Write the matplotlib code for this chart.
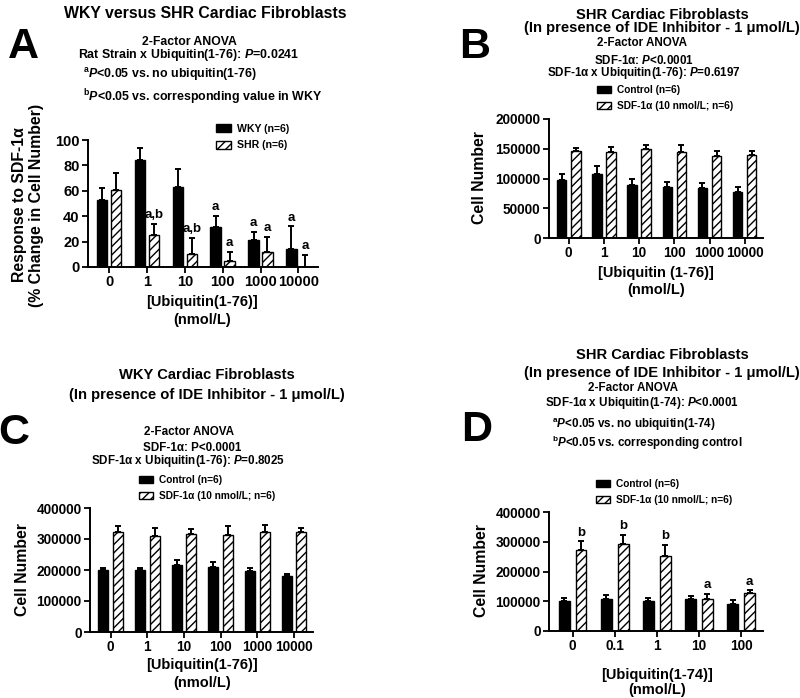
import numpy as np
import matplotlib
matplotlib.use("Agg")
import matplotlib.pyplot as plt

plt.rcParams['font.family'] = ['Liberation Sans', 'DejaVu Sans']
plt.rcParams['font.weight'] = 'bold'
plt.rcParams['mathtext.fontset'] = 'custom'
plt.rcParams['mathtext.rm'] = 'Liberation Sans:bold'
plt.rcParams['mathtext.it'] = 'Liberation Sans:italic:bold'
plt.rcParams['mathtext.bf'] = 'Liberation Sans:bold'
plt.rcParams['hatch.linewidth'] = 1.0

# Panel A - WKY vs SHR, % change in cell number
a_doses = ['0', '1', '10', '100', '1000', '10000']
a_wky = [52.5, 84, 63, 31.5, 21.5, 14]
a_wky_err = [10, 10, 14.5, 9, 6, 18]
a_shr = [61, 25.5, 10.5, 5, 11.5, 0.3]
a_shr_err = [13, 8.5, 12.5, 7, 12, 9.4]
a_wky_marks = ['', '', '', 'a', 'a', 'a']
a_shr_marks = ['', 'a,b', 'a,b', 'a', 'a', 'a']

# Panel B - SHR with IDE inhibitor
b_doses = ['0', '1', '10', '100', '1000', '10000']
b_ctrl = [98000, 107000, 89000, 86500, 84000, 77500]
b_ctrl_err = [10000, 14000, 10000, 7500, 8000, 8500]
b_sdf = [146500, 144000, 149000, 145000, 138000, 139000]
b_sdf_err = [5500, 9000, 8000, 12000, 7500, 6500]

# Panel C - WKY with IDE inhibitor
c_doses = ['0', '1', '10', '100', '1000', '10000']
c_ctrl = [200000, 199000, 216000, 211000, 196000, 182000]
c_ctrl_err = [6000, 8000, 15000, 14000, 10000, 6000]
c_sdf = [324000, 310000, 316000, 313000, 322000, 321000]
c_sdf_err = [19000, 27000, 17000, 30000, 23000, 15000]

# Panel D - SHR with IDE inhibitor, ubiquitin(1-74)
d_doses = ['0', '0.1', '1', '10', '100']
d_ctrl = [101000, 107500, 102000, 108500, 92000]
d_ctrl_err = [9000, 14000, 9000, 10000, 13000]
d_sdf = [273000, 293500, 251000, 108500, 127500]
d_sdf_err = [28000, 30000, 38000, 16500, 9000]
d_sdf_marks = ['b', 'b', 'b', 'a', 'a']

W, H = 800, 698
fig = plt.figure(figsize=(W / 100, H / 100), dpi=100)


def px_axes(x0, y0, x1, y1):
    return fig.add_axes([x0 / W, 1 - y1 / H, (x1 - x0) / W, (y1 - y0) / H])


def ftext(x, y, s, size=8.4, ha='center', **kw):
    fig.text(x / W, 1 - y / H, s, ha=ha, va='center', fontsize=size,
             fontweight='bold', **kw)


def bar_panel(ax, doses, s1, e1, s2, e2, lab1, lab2, ymax, step,
              width=0.27, off=0.19, tsize=9.8):
    x = np.arange(len(doses))
    ax.bar(x - off, s1, width, color='black', edgecolor='black',
           linewidth=1, label=lab1, zorder=2)
    ax.bar(x + off, s2, width, color='white', edgecolor='black',
           hatch='////', linewidth=1, label=lab2, zorder=2)
    for xs, m, e in [(x - off, s1, e1), (x + off, s2, e2)]:
        ax.errorbar(xs, m, yerr=[np.zeros(len(m)), e], fmt='none',
                    ecolor='black', elinewidth=1.4, capsize=2.5,
                    capthick=1.4, zorder=3)
    ax.set_xlim(-0.56, len(doses) - 0.48)
    ax.set_ylim(0, ymax)
    ax.set_yticks(np.arange(0, ymax + 1, step))
    ax.set_xticks(x)
    ax.set_xticklabels(doses)
    for s in ['top', 'right']:
        ax.spines[s].set_visible(False)
    for s in ['left', 'bottom']:
        ax.spines[s].set_linewidth(1.4)
    ax.tick_params(axis='both', width=1.3, length=4, labelsize=tsize, pad=2)
    for t in ax.get_xticklabels() + ax.get_yticklabels():
        t.set_fontweight('bold')
    return x


def add_legend(ax, x, y, size=7.3):
    ax.legend(loc='upper left', bbox_to_anchor=(x / W, 1 - y / H),
              bbox_transform=fig.transFigure, frameon=False,
              handlelength=1.4, handleheight=0.75, handletextpad=0.6,
              labelspacing=0.6, borderpad=0, borderaxespad=0,
              prop={'weight': 'bold', 'size': size})


def marks(ax, xs, tops, labels):
    for xi, t, lab in zip(xs, tops, labels):
        if lab:
            ax.annotate(lab, (xi, t), xytext=(0, 2), textcoords='offset points',
                        ha='center', va='bottom', fontsize=9.5,
                        fontweight='bold')


# ---- Panel A ----
axA = px_axes(88, 140, 318, 267)
xa = bar_panel(axA, a_doses, a_wky, a_wky_err, a_shr, a_shr_err,
               'WKY (n=6)', 'SHR (n=6)', 100, 20, width=0.28, off=0.185,
               tsize=10.5)
marks(axA, xa - 0.185, np.add(a_wky, a_wky_err), a_wky_marks)
marks(axA, xa + 0.185, np.add(a_shr, a_shr_err), a_shr_marks)
add_legend(axA, 216, 124, size=7.6)
ftext(205, 13, 'WKY versus SHR Cardiac Fibroblasts', size=11.4)
ftext(23, 47, 'A', size=31)
ftext(189, 42, '2-Factor ANOVA', size=8.8)
ftext(189, 55, r'Rat Strain x Ubiquitin(1-76): $P$=0.0241', size=8.9)
ftext(83, 75, r'$^{\mathrm{a}}P$<0.05 vs. no ubiquitin(1-76)', size=8.9, ha='left')
ftext(83, 97, r'$^{\mathrm{b}}P$<0.05 vs. corresponding value in WKY', size=8.9,
      ha='left')
ftext(20, 205, 'Response to SDF-1α', size=11.4, rotation=90)
ftext(37, 205, '(% Change in Cell Number)', size=11.4, rotation=90)
ftext(202, 302, '[Ubiquitin(1-76)]', size=10.5)
ftext(202, 320, '(nmol/L)', size=10.5)

# ---- Panel B ----
axB = px_axes(549, 119, 763, 238)
bar_panel(axB, b_doses, b_ctrl, b_ctrl_err, b_sdf, b_sdf_err,
          'Control (n=6)', 'SDF-1α (10 nmol/L; n=6)', 200000, 50000,
          width=0.27, off=0.2)
add_legend(axB, 597, 85)
ftext(662, 15, 'SHR Cardiac Fibroblasts', size=10.6)
ftext(662, 28, '(In presence of IDE Inhibitor - 1 μmol/L)', size=10.6)
ftext(475, 47, 'B', size=31)
ftext(642, 43, '2-Factor ANOVA')
ftext(644, 60, r'SDF-1α: $P$<0.0001')
ftext(644, 73, r'SDF-1α x Ubiquitin(1-76): $P$=0.6197')
ftext(479, 178, 'Cell Number', size=11.3, rotation=90)
ftext(656, 273, '[Ubiquitin (1-76)]', size=10.5)
ftext(656, 290, '(nmol/L)', size=10.5)

# ---- Panel C ----
axC = px_axes(90, 508, 313, 632)
bar_panel(axC, c_doses, c_ctrl, c_ctrl_err, c_sdf, c_sdf_err,
          'Control (n=6)', 'SDF-1α (10 nmol/L; n=6)', 400000, 100000,
          width=0.27, off=0.2)
add_legend(axC, 139, 475)
ftext(207, 375, 'WKY Cardiac Fibroblasts', size=10.6)
ftext(207, 395, '(In presence of IDE Inhibitor - 1 μmol/L)', size=10.6)
ftext(14, 433, 'C', size=31)
ftext(189, 432, '2-Factor ANOVA')
ftext(192, 448, 'SDF-1α: P<0.0001')
ftext(188, 461, r'SDF-1α x Ubiquitin(1-76): $P$=0.8025')
ftext(23, 570, 'Cell Number', size=11.3, rotation=90)
ftext(202, 665, '[Ubiquitin(1-76)]', size=10.5)
ftext(202, 683, '(nmol/L)', size=10.5)

# ---- Panel D ----
axD = px_axes(549, 512, 763, 631)
xd = bar_panel(axD, d_doses, d_ctrl, d_ctrl_err, d_sdf, d_sdf_err,
               'Control (n=6)', 'SDF-1α (10 nmol/L; n=6)', 400000, 100000,
               width=0.26, off=0.2)
marks(axD, xd + 0.2, np.add(d_sdf, d_sdf_err), d_sdf_marks)
add_legend(axD, 596, 479)
ftext(662, 355, 'SHR Cardiac Fibroblasts', size=10.6)
ftext(662, 373, '(In presence of IDE Inhibitor - 1 μmol/L)', size=10.6)
ftext(477, 430, 'D', size=31)
ftext(633, 388, '2-Factor ANOVA')
ftext(642, 403, r'SDF-1α x Ubiquitin(1-74): $P$<0.0001')
ftext(552, 425, r'$^{\mathrm{a}}P$<0.05 vs. no ubiquitin(1-74)', ha='left')
ftext(552, 443, r'$^{\mathrm{b}}P$<0.05 vs. corresponding control', ha='left')
ftext(482, 571, 'Cell Number', size=11.3, rotation=90)
ftext(657, 675, '[Ubiquitin(1-74)]', size=10.5)
ftext(657, 690, '(nmol/L)', size=10.5)

fig.savefig('out.png', dpi=100)
